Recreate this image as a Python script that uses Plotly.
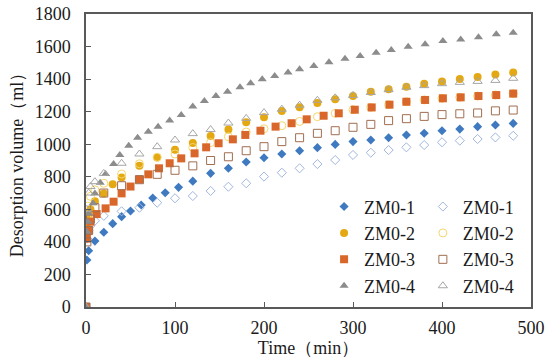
import plotly.graph_objects as go

# ---------------- data ----------------
t_zm1_f = [0, 1, 3, 10, 20, 30, 40, 50, 62, 75, 89, 104, 120, 140, 160, 180, 200, 220, 240, 260, 280, 300, 320, 340, 360, 380, 400, 420, 440, 460, 480]
v_zm1_f = [0, 289, 346, 405, 459, 512, 555, 590, 627, 670, 702, 735, 773, 821, 852, 891, 917, 940, 960, 979, 999, 1016, 1026, 1040, 1057, 1067, 1083, 1093, 1108, 1118, 1128]

t_zm1_o = [0, 1, 3, 5, 10, 20, 40, 60, 80, 100, 120, 140, 160, 180, 200, 220, 240, 260, 280, 300, 320, 340, 360, 380, 400, 420, 440, 460, 480]
v_zm1_o = [0, 420, 470, 500, 530, 560, 588, 610, 641, 668, 682, 713, 739, 760, 801, 825, 852, 878, 903, 934, 948, 964, 981, 995, 1012, 1022, 1032, 1042, 1052]

t_zm2_f = [0, 1, 2, 3, 5, 10, 20, 30, 40, 60, 80, 100, 120, 140, 160, 180, 200, 220, 240, 260, 280, 300, 320, 340, 360, 380, 400, 420, 440, 460, 480]
v_zm2_f = [0, 510, 545, 575, 600, 650, 698, 754, 795, 868, 918, 966, 1007, 1050, 1090, 1135, 1165, 1204, 1227, 1253, 1276, 1296, 1322, 1337, 1353, 1372, 1386, 1400, 1413, 1428, 1440]

t_zm2_o = [0, 1, 2, 5, 10, 20, 40, 60, 80, 100, 120, 140, 160, 180, 200, 220, 240, 260, 280, 300, 320, 340, 360, 380, 400, 420, 440, 460, 480]
v_zm2_o = [0, 560, 620, 680, 720, 760, 817, 880, 920, 940, 980, 1010, 1046, 1075, 1095, 1114, 1140, 1169, 1190, 1212, 1226, 1243, 1261, 1272, 1282, 1288, 1296, 1302, 1311]

t_zm3_f = [0, 1, 3, 5, 12, 22, 31, 40, 50, 60, 70, 82, 94, 107, 122, 135, 149, 165, 179, 196, 213, 231, 248, 267, 284, 302, 321, 341, 360, 381, 401, 421, 441, 461, 480]
v_zm3_f = [0, 420, 473, 524, 571, 606, 647, 698, 740, 784, 815, 852, 883, 913, 944, 981, 1006, 1030, 1057, 1083, 1108, 1129, 1153, 1175, 1190, 1212, 1226, 1243, 1261, 1272, 1282, 1288, 1296, 1302, 1311]

t_zm3_o = [0, 1, 3, 5, 10, 20, 40, 60, 80, 100, 120, 140, 160, 180, 200, 220, 240, 260, 280, 300, 320, 340, 360, 380, 400, 420, 440, 460, 480]
v_zm3_o = [0, 400, 470, 540, 610, 700, 745, 782, 815, 840, 867, 900, 923, 960, 985, 1016, 1040, 1067, 1083, 1104, 1122, 1145, 1157, 1171, 1182, 1187, 1192, 1205, 1210]

t_zm4_f = [0, 1, 2, 3, 8, 10, 16, 22, 31, 38, 48, 58, 70, 81, 94, 107, 120, 133, 146, 159, 173, 185, 198, 212, 227, 240, 256, 273, 291, 308, 326, 343, 362, 381, 401, 421, 441, 461, 480]
v_zm4_f = [0, 463, 524, 575, 637, 698, 764, 817, 878, 934, 991, 1040, 1077, 1108, 1145, 1180, 1231, 1266, 1296, 1323, 1350, 1374, 1399, 1419, 1440, 1460, 1480, 1504, 1525, 1542, 1562, 1579, 1599, 1614, 1634, 1644, 1657, 1675, 1685]

t_zm4_o = [0, 1, 3, 5, 10, 20, 40, 60, 80, 100, 120, 140, 160, 180, 200, 220, 240, 260, 280, 300, 320, 340, 360, 380, 400, 420, 440, 460, 480]
v_zm4_o = [0, 600, 700, 740, 770, 821, 883, 940, 985, 1026, 1065, 1090, 1130, 1159, 1194, 1215, 1240, 1270, 1285, 1300, 1318, 1335, 1350, 1360, 1372, 1380, 1386, 1392, 1405]

names = ["ZM0-1", "ZM0-2", "ZM0-3", "ZM0-4"]
x_ticks = [0, 100, 200, 300, 400, 500]
y_ticks = [0, 200, 400, 600, 800, 1000, 1200, 1400, 1600, 1800]

# ---------------- styles ----------------
FONT = "Liberation Serif, Times New Roman, serif"
filled = [
    (t_zm1_f, v_zm1_f, "diamond", "#3F7AC0", 7),
    (t_zm2_f, v_zm2_f, "circle", "#E4A912", 8),
    (t_zm3_f, v_zm3_f, "square", "#D9672B", 8),
    (t_zm4_f, v_zm4_f, "triangle-up", "#8C8C8C", 8),
]
opened = [
    (t_zm1_o, v_zm1_o, "diamond-open", "#A3B6DD", 7),
    (t_zm2_o, v_zm2_o, "circle-open", "#F6D66A", 8),
    (t_zm3_o, v_zm3_o, "square-open", "#A06E50", 8),
    (t_zm4_o, v_zm4_o, "triangle-up-open", "#A6A6A6", 8),
]

fig = go.Figure()
for i in range(4):
    for grp, legend in ((filled, "legend"), (opened, "legend2")):
        t, v, sym, col, sz = grp[i]
        fig.add_trace(go.Scatter(
            x=t, y=v, mode="markers", name=names[i], legend=legend,
            marker=dict(symbol=sym, color=col, size=sz,
                        line=dict(color=col, width=1 if "open" in sym else 0)),
        ))

axis_common = dict(
    showline=True, mirror=True, linecolor="#595959", linewidth=1.5,
    ticks="inside", ticklen=5, tickwidth=1, tickcolor="#595959",
    showgrid=False, zeroline=False, automargin=False,
    tickfont=dict(family=FONT, size=18, color="#1a1a1a"),
)

fig.update_layout(
    width=550, height=363,
    margin=dict(l=86, r=19, t=14, b=56),
    paper_bgcolor="white", plot_bgcolor="white",
    font=dict(family=FONT, size=18, color="#1a1a1a"),
    xaxis=dict(range=[0, 500], tickvals=x_ticks, ticklabelstandoff=4, **axis_common,
               title=dict(text="Time（min）", font=dict(family=FONT, size=18), standoff=0)),
    yaxis=dict(range=[0, 1800], tickvals=y_ticks, ticklabelstandoff=10, **axis_common,
               title=dict(text="Desorption volume（ml）", font=dict(family=FONT, size=18), standoff=6)),
    legend=dict(x=0.535, y=0.405, xanchor="left", yanchor="top",
                bgcolor="rgba(0,0,0,0)", font=dict(family=FONT, size=18),
                itemwidth=30, tracegroupgap=0),
    legend2=dict(x=0.757, y=0.405, xanchor="left", yanchor="top",
                 bgcolor="rgba(0,0,0,0)", font=dict(family=FONT, size=18),
                 itemwidth=30, tracegroupgap=0),
)

fig.write_html("out.html",
               config={"displayModeBar": False},
               post_script="document.body.style.margin='0';document.body.style.padding='0';")
